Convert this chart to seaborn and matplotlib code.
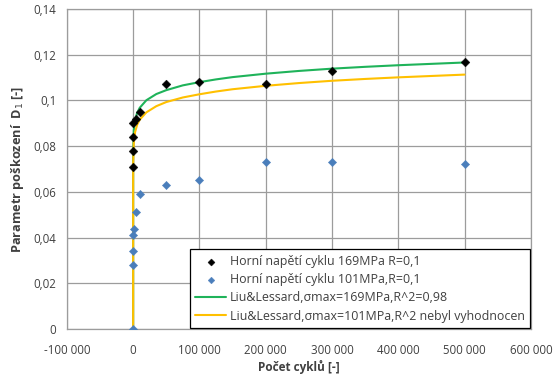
import matplotlib
matplotlib.use("Agg")
import matplotlib.pyplot as plt
import seaborn as sns
import pandas as pd
from matplotlib.ticker import FixedLocator, FixedFormatter

# measured points, 169 MPa
n_169 = [0, 0, 0, 0, 5000, 10000, 50000, 100000, 200000, 300000, 500000]
d_169 = [0.071, 0.078, 0.084, 0.090, 0.092, 0.095, 0.107, 0.108, 0.107, 0.113, 0.117]

# measured points, 101 MPa
n_101 = [0, 0, 0, 0, 1000, 4000, 10000, 50000, 100000, 200000, 300000, 500000]
d_101 = [0.0, 0.028, 0.034, 0.041, 0.044, 0.051, 0.059, 0.063, 0.065, 0.073, 0.073, 0.072]

# Liu&Lessard curves
n_fit = [0, 1, 10, 100, 1000, 3000, 6000, 10000, 20000, 35000, 50000, 75000,
         100000, 125000, 150000, 200000, 250000, 300000, 350000, 400000, 450000, 500000]
d_fit_169 = [0.0, 0.062, 0.070, 0.078, 0.087, 0.0915, 0.0945, 0.0968, 0.1001, 0.1028,
             0.1045, 0.1066, 0.1080, 0.1092, 0.1102, 0.1117, 0.1129, 0.1139, 0.1147,
             0.1154, 0.1160, 0.1166]
d_fit_101 = [0.0, 0.0578, 0.0648, 0.0728, 0.0816, 0.0862, 0.0893, 0.0916, 0.0948, 0.0975,
             0.0993, 0.1013, 0.1027, 0.1039, 0.1049, 0.1064, 0.1076, 0.1086, 0.1094,
             0.1101, 0.1107, 0.1113]

labels = ["Horní napětí cyklu 169MPa R=0,1",
          "Horní napětí cyklu 101MPa,R=0,1",
          "Liu&Lessard,σmax=169MPa,R^2=0,98",
          "Liu&Lessard,σmax=101MPa,R^2 nebyl vyhodnocen"]

x_ticks = [-100000, 0, 100000, 200000, 300000, 400000, 500000, 600000]
x_tick_labels = ["-100 000", "0", "100 000", "200 000", "300 000", "400 000", "500 000", "600 000"]
y_ticks = [0, 0.02, 0.04, 0.06, 0.08, 0.10, 0.12, 0.14]
y_tick_labels = ["0", "0,02", "0,04", "0,06", "0,08", "0,1", "0,12", "0,14"]

sns.set_style("white")
plt.rcParams["font.family"] = ["Open Sans", "DejaVu Sans"]

fig = plt.figure(figsize=(5.57, 3.74), dpi=100)
ax = fig.add_axes([0.120, 0.120, 0.833, 0.856])

fit169 = pd.DataFrame({"N": n_fit, "D": d_fit_169})
fit101 = pd.DataFrame({"N": n_fit, "D": d_fit_101})

sns.lineplot(data=fit169, x="N", y="D", color="#1fb35a", linewidth=1.5,
             estimator=None, sort=False, ax=ax, label=labels[2], zorder=3)
sns.lineplot(data=fit101, x="N", y="D", color="#ffc000", linewidth=1.5,
             estimator=None, sort=False, ax=ax, label=labels[3], zorder=3)
sns.scatterplot(x=n_169, y=d_169, marker="D", color="black", s=20,
                edgecolor="black", linewidth=0.3, ax=ax, label=labels[0], zorder=4)
sns.scatterplot(x=n_101, y=d_101, marker="D", color="#4a7ebb", s=18,
                edgecolor="#4a7ebb", linewidth=0.3, ax=ax, label=labels[1], zorder=4)

ax.set_xlim(-100000, 600000)
ax.set_ylim(0, 0.14)
ax.xaxis.set_major_locator(FixedLocator(x_ticks))
ax.xaxis.set_major_formatter(FixedFormatter(x_tick_labels))
ax.yaxis.set_major_locator(FixedLocator(y_ticks))
ax.yaxis.set_major_formatter(FixedFormatter(y_tick_labels))
ax.tick_params(axis="both", labelsize=8.3, colors="#404040", length=4, width=0.8,
               color="#999999", direction="out")
ax.tick_params(axis="x", pad=7)

ax.grid(True, color="#9c9c9c", linewidth=0.9)
ax.set_axisbelow(True)
for s in ax.spines.values():
    s.set_color("#9c9c9c")
    s.set_linewidth(0.9)

ax.set_xlabel("Počet cyklů [-]", fontsize=8.5, fontweight="bold", color="#404040", labelpad=2)
ax.set_ylabel("Parametr poškození  D$_1$ [-]", fontsize=9.2, fontweight="bold",
              color="#404040", labelpad=5)

h, l = ax.get_legend_handles_labels()
order = [l.index(t) for t in labels]
leg = ax.legend([h[i] for i in order], [l[i] for i in order], loc="lower right",
                bbox_to_anchor=(0.999, 0.003), fontsize=8.9, frameon=True, fancybox=False,
                edgecolor="black", framealpha=1, borderpad=0.45, labelspacing=0.42,
                handlelength=2.5, handletextpad=0.3, borderaxespad=0.0,
                markerscale=0.8)
leg.get_frame().set_linewidth(0.9)
for t in leg.get_texts():
    t.set_color("#404040")

fig.savefig("out.png", dpi=100)
